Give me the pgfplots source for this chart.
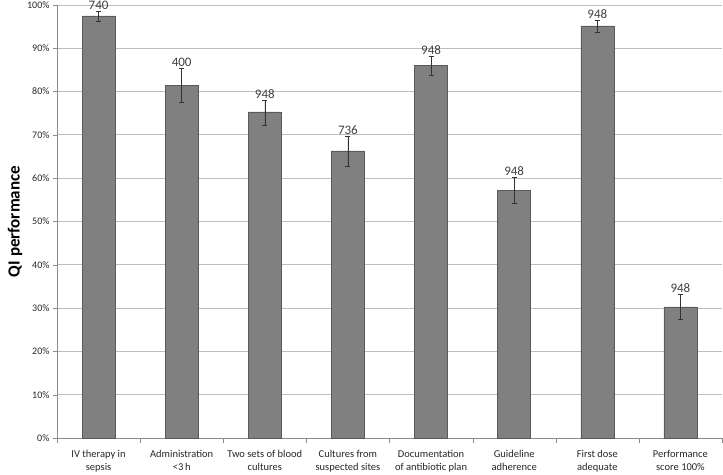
\documentclass[border=0pt]{standalone}
\usepackage{pgfplots}
\pgfplotsset{compat=1.18}
\usepackage{pgfplotstable}
\usepackage{fontspec}
\setmainfont{Carlito}
\definecolor{barfill}{HTML}{808080}
\definecolor{bardraw}{HTML}{5A5A5A}
\definecolor{gridc}{HTML}{BEBEBE}
\definecolor{axisc}{HTML}{8C8C8C}
\definecolor{numc}{HTML}{404040}

% x, value, error plus/minus, n
\pgfplotstableread{
x  y     ep   em   n
0  97.5  1.1  1.2  740
1  81.5  3.9  3.9  400
2  75.3  2.6  3.0  948
3  66.3  3.4  3.5  736
4  86.1  2.1  2.3  948
5  57.2  3.1  3.1  948
6  95.2  1.3  1.4  948
7  30.3  3.0  3.0  948
}\qidata

\begin{document}
\begin{tikzpicture}
\path[use as bounding box] (-57pt,-36pt) rectangle (666pt,438pt);
\begin{axis}[
  at={(0,0)}, anchor=south west,
  scale only axis, width=665pt, height=433pt,
  xmin=-0.5, xmax=7.5, ymin=0, ymax=100,
  axis x line*=bottom, axis y line*=left,
  axis line style={axisc},
  ytick={0,10,...,100},
  yticklabel={\pgfmathprintnumber{\tick}\%},
  yticklabel style={font=\fontsize{10}{12}\selectfont, color=black!85},
  /pgf/number format/assume math mode=true,
  ymajorgrids, grid style={gridc, line width=0.8pt},
  tick align=outside, tick style={axisc},
  major tick length=4pt,
  xtick={0,...,7},
  x tick style={draw=none},
  minor xtick={-0.5,0.5,...,7.5},
  minor x tick style={axisc, draw=axisc},
  minor tick length=5pt,
  xticklabels={{IV therapy in\\sepsis},{Administration\\<3\,h},{Two sets of blood\\cultures},{Cultures from\\suspected sites},{Documentation\\of antibiotic plan},{Guideline\\adherence},{First dose\\adequate},{Performance\\score 100\%}},
  xticklabel style={align=center, font=\fontsize{10.5}{13}\selectfont, color=black!85},
  x tick label style={yshift=-5pt},
  ylabel={\textbf{QI performance}},
  ylabel style={font=\fontsize{17}{20}\selectfont, yshift=-2pt},
  clip=false,
]
\addplot[ybar, bar width=33pt, fill=barfill, draw=bardraw,
  error bars/.cd, y dir=both, y explicit,
  error bar style={black!80, line width=0.6pt},
  error mark options={black!80, mark size=2.5pt, line width=0.6pt, rotate=90}]
  table[x=x, y=y, y error plus=ep, y error minus=em]{\qidata};
\addplot[draw=none, mark=none, nodes near coords, point meta=explicit symbolic,
  nodes near coords style={anchor=south, inner sep=1.5pt, color=numc, font=\fontsize{13}{15}\selectfont}]
  table[x=x, y expr=\thisrow{y}+\thisrow{ep}, meta=n]{\qidata};
\end{axis}
\end{tikzpicture}
\end{document}
